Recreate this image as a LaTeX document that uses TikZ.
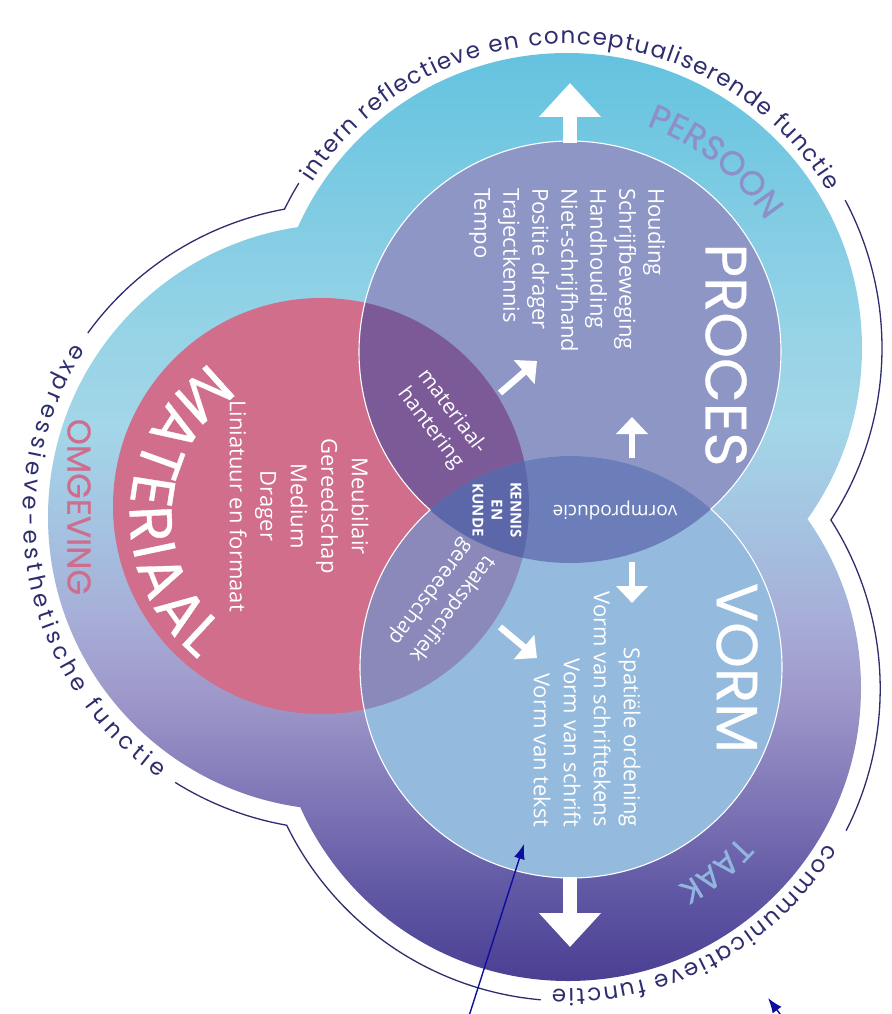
\documentclass[tikz,border=0pt]{standalone}
\usepackage{fontspec}
\setmainfont{Open Sans}
\newfontfamily\titlef{Poppins}[FakeBold=0.6]
\newfontfamily\ringf{Poppins}
\usetikzlibrary{decorations.text,arrows.meta,calc}

\definecolor{sh0}{HTML}{64C3DF}
\definecolor{sh1}{HTML}{7ECBE3}
\definecolor{sh2}{HTML}{96D3E6}
\definecolor{sh3}{HTML}{A3D6E8}
\definecolor{sh4}{HTML}{A4C4E2}
\definecolor{sh5}{HTML}{A7ADD7}
\definecolor{sh6}{HTML}{9D97C9}
\definecolor{sh7}{HTML}{7E76B6}
\definecolor{sh8}{HTML}{5E55A3}
\definecolor{sh9}{HTML}{4A3F93}
\definecolor{matpink}{HTML}{D06E8C}
\definecolor{procfill}{HTML}{8E96C6}
\definecolor{vormfill}{HTML}{94BADD}
\definecolor{pmfill}{HTML}{7C5A98}
\definecolor{mvfill}{HTML}{8A89B9}
\definecolor{pvfill}{HTML}{6B7EBA}
\definecolor{pmvfill}{HTML}{5C67AA}
\definecolor{navyline}{HTML}{2E2E6E}
\definecolor{persc}{HTML}{8C8FC8}
\definecolor{taakc}{HTML}{90B5DE}
\definecolor{omgc}{HTML}{CF6E8C}
\definecolor{annotblue}{HTML}{0D0DA0}

\pgfdeclareverticalshading{blobsh}{100bp}{color(0bp)=(sh9); color(25bp)=(sh9); color(29.4bp)=(sh8); color(34.75bp)=(sh7); color(40.1bp)=(sh6); color(44.4bp)=(sh5); color(49.8bp)=(sh4); color(54.7bp)=(sh3); color(60.1bp)=(sh2); color(67.1bp)=(sh1); color(75bp)=(sh0); color(100bp)=(sh0)}

\begin{document}
\begin{tikzpicture}[x=1pt,y=1pt,
  listtxt/.style={text=white, inner sep=0pt, rotate=-90},
  ttl/.style={text=white, inner sep=0pt, rotate=-90, font=\titlef\fontsize{58}{58}\selectfont},
  lenstxt/.style={text=white, inner sep=0pt, align=center},
  outl/.style={draw=navyline, line width=1.3pt},
  widearrow/.style={white, line width=14pt, -{Triangle[width=60pt,length=34pt]}},
  thinarrow/.style={white, line width=6.5pt, -{Triangle[width=31pt,length=17pt]}},
  annot/.style={annotblue, line width=1.4pt, -{Latex[length=15pt,width=11pt]}},
  circout/.style={draw=white, line width=1.1pt}]

\fill[white] (0,0) rectangle (891,-1014);
\useasboundingbox (0,0) rectangle (891,-1014);

% centres
\coordinate (cT) at (567,-348);
\coordinate (cL) at (341,-517);
\coordinate (cB) at (568,-688);
\coordinate (cP) at (570,-352);
\coordinate (cV) at (571,-667);
\coordinate (cM) at (321,-506);
\coordinate (cMt) at (314,-516);

% outer blob
\shade[shading=blobsh] (cT) circle[radius=295] (cL) circle[radius=293] (cB) circle[radius=293];

% circles
\fill[matpink] (cM) circle[radius=208];
\fill[procfill] (cP) circle[radius=211];
\fill[vormfill] (cV) circle[radius=211];
\begin{scope}
  \clip (cV) circle[radius=211];
  \fill[mvfill] (cM) circle[radius=208];
\end{scope}
\begin{scope}
  \clip (cP) circle[radius=211];
  \fill[pmfill] (cM) circle[radius=208];
  \fill[pvfill] (cV) circle[radius=211];
  \clip (cV) circle[radius=211];
  \fill[pmvfill] (cM) circle[radius=208];
\end{scope}
\draw[circout] ($(cP)+(-48.2:211)$) arc[start angle=-48.2, end angle=228.4, radius=211];
\draw[circout] ($(cV)+(131.8:211)$) arc[start angle=131.8, end angle=408.4, radius=211];

% outline lines
\draw[outl] ($(cT)+(28:315)$) arc[start angle=28, end angle=-33.1, radius=315]
            arc[start angle=32.6, end angle=-27, radius=313];
\draw[outl] ($(cB)+(-95:313)$) arc[start angle=-95, end angle=-154, radius=313]
            arc[start angle=260, end angle=238, radius=313];
\draw[outl] ($(cL)+(144:313)$) arc[start angle=144, end angle=100.4, radius=313]
            arc[start angle=153.9, end angle=148.5, radius=315];

% outline texts
\path[decorate, decoration={text along path, text color=navyline, text align=fit to path,
  text={|\ringf\fontsize{23}{23}\selectfont|intern reflectieve en conceptualiserende functie}}]
  ($(cT)+(147:304)$) arc[start angle=147, end angle=31, radius=304];
\path[decorate, decoration={text along path, text color=navyline, text align=fit to path,
  text={|\ringf\fontsize{23}{23}\selectfont|communicatieve functie}}]
  ($(cB)+(-31:301)$) arc[start angle=-31, end angle=-93, radius=301];
\path[decorate, decoration={text along path, text color=navyline, text align=fit to path,
  text={|\ringf\fontsize{23}{23}\selectfont|expressieve-esthetische functie}}]
  ($(cL)+(147:318)$) arc[start angle=147, end angle=235, radius=318];

% ring labels
\path[decorate, decoration={text along path, text color=persc, text align=center,
  text={|\titlef\fontsize{34}{34}\selectfont|PERSOON}}]
  ($(cT)+(81.5:236)$) arc[start angle=81.5, end angle=21.5, radius=236];
\path[decorate, decoration={text along path, text color=taakc, text align=center,
  text={|\titlef\fontsize{32}{32}\selectfont|TAAK}}]
  ($(cB)+(-21:226)$) arc[start angle=-21, end angle=-81, radius=226];
\node[text=omgc, inner sep=0pt, rotate=-90, font=\titlef\fontsize{33}{33}\selectfont] (omg) at (79,-507) {OMGEVING};

% titles
\node[ttl] (proctitle) at (726,-355) {PROCES};
\node[ttl] (vormtitle) at (737,-668) {VORM};
\path[decorate, decoration={text along path, text color=white, text align=fit to path,
  text={|\titlef\fontsize{60}{60}\selectfont|MATERIAAL}}]
  ($(cMt)+(124:184)$) arc[start angle=124, end angle=231, radius=184];

% lists
\node[listtxt, align=left, anchor=west, font=\fontsize{22}{29}\selectfont] (proclist) at (567,-188)
  {Houding\\Schrijfbeweging\\Handhouding\\Niet-schrijfhand\\Positie drager\\Trajectkennis\\Tempo};
\node[listtxt, align=center, anchor=center, font=\fontsize{22}{30.5}\selectfont] (matlist) at (299,-506)
  {Meubilair\\Gereedschap\\Medium\\Drager\\Liniatuur en formaat};
\node[listtxt, align=right, anchor=east, font=\fontsize{22}{30}\selectfont] (vormlist) at (587,-827)
  {Spatiële ordening\\Vorm van schrifttekens\\Vorm van schrift\\Vorm van tekst};

% lens labels
\node[lenstxt, rotate=-53, font=\fontsize{21}{27}\selectfont] (mathant) at (441,-420) {materiaal-\\hantering};
\node[lenstxt, rotate=-127, font=\fontsize{21}{27}\selectfont] (taakgr) at (441,-600) {taakspecifiek\\gereedschap};
\node[lenstxt, rotate=180, font=\fontsize{19}{19}\selectfont] (vormprod) at (615,-510) {vormproducie};
\node[lenstxt, rotate=-90, font=\bfseries\fontsize{15}{19}\selectfont] (kennis) at (497,-510) {KENNIS\\EN\\KUNDE};

% white arrows
\coordinate (a1s) at (570,-143); \coordinate (a1e) at (570,-83);
\coordinate (a2s) at (570,-877); \coordinate (a2e) at (570,-947);
\coordinate (a3s) at (632,-458); \coordinate (a3e) at (632,-417);
\coordinate (a4s) at (632,-562); \coordinate (a4e) at (632,-603);
\coordinate (a5s) at (500,-393); \coordinate (a5e) at (537,-361);
\coordinate (a6s) at (500,-627); \coordinate (a6e) at (537,-658);
\draw[widearrow] (a1s) -- (a1e);
\draw[widearrow] (a2s) -- (a2e);
\draw[thinarrow] (a3s) -- (a3e);
\draw[thinarrow] (a4s) -- (a4e);
\draw[thinarrow] (a5s) -- (a5e);
\draw[thinarrow] (a6s) -- (a6e);

% annotation arrows
\coordinate (b1s) at (469,-1016); \coordinate (b1e) at (524,-844);
\coordinate (b2s) at (786,-1022); \coordinate (b2e) at (768,-998);
\draw[annot] (b1s) -- (b1e);
\draw[annot] (b2s) -- (b2e);
\end{tikzpicture}
\end{document}
